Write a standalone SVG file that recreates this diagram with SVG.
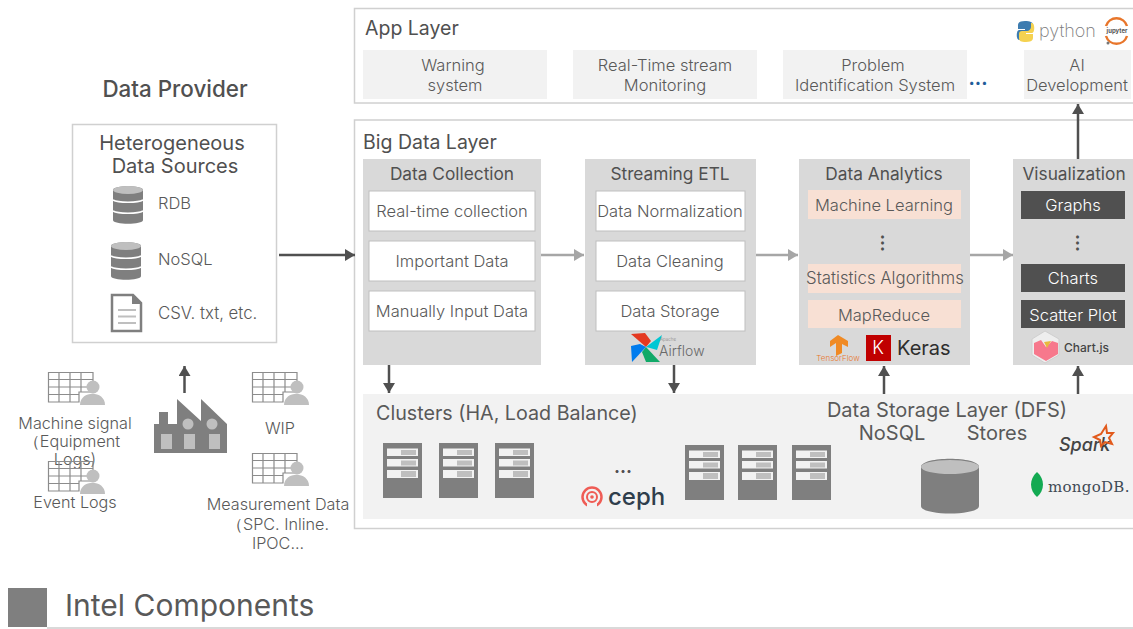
<svg xmlns="http://www.w3.org/2000/svg" xmlns:xlink="http://www.w3.org/1999/xlink" width="1133" height="629" viewBox="0 0 1133 629">
<style>
text{font-family:"Inter","Noto Sans","Liberation Sans",sans-serif;fill:#595959;text-anchor:middle;font-weight:300}
.t17{font-size:16.5px}
.h{font-size:17.300px;font-weight:400;fill:#505050}
.big{font-size:19.500px}
.hs{font-size:20px}
.s{font-size:16.200px}
.l{text-anchor:start}
.frame{fill:#fff;stroke:#d0d0d0;stroke-width:1.5}
.tile{fill:#f2f2f2}
.col{fill:#d9d9d9}
.wb{fill:#fff;stroke:#bfbfbf;stroke-width:1}
.pe{fill:#f8e0d4}
.dk{fill:#505050}
.ar{stroke:#505050;stroke-width:2.5;fill:none;marker-end:url(#ad)}
.ag{stroke:#a6a6a6;stroke-width:2.5;fill:none;marker-end:url(#ag)}
</style>
<defs>
<marker id="ad" markerUnits="userSpaceOnUse" markerWidth="12" markerHeight="12" refX="10" refY="6" orient="auto"><path d="M0 0L10 6L0 12Z" fill="#505050"/></marker>
<marker id="ag" markerUnits="userSpaceOnUse" markerWidth="12" markerHeight="12" refX="10" refY="6" orient="auto"><path d="M0 0L10 6L0 12Z" fill="#a6a6a6"/></marker>
<g id="db">
<path d="M0 4C0 -1 30 -1 30 4V34C30 39 0 39 0 34Z" fill="#7f7f7f"/>
<ellipse cx="15" cy="4" rx="15" ry="4" fill="#bfbfbf"/>
<path d="M0 14C5 17 25 17 30 14M0 25C5 28 25 28 30 25" stroke="#fff" stroke-width="1.5" fill="none"/>
</g>
<g id="tp">
<path d="M0.5 0.5H45V20H31V30H0.5ZM0.5 7.5H45M0.5 15H40M0.5 22.5H31M11 0.5V30M22 0.5V30M33 0.5V20" fill="none" stroke="#8c8c8c" stroke-width="1.2"/>
<circle cx="45" cy="15" r="6.5" fill="#bfbfbf"/>
<path d="M32 33C32 18 57 18 57 33Z" fill="#bfbfbf"/>
</g>
<g id="sv">
<rect width="39" height="55" fill="#7f7f7f"/>
<path d="M4 5.500H35V13H4ZM4 16H35V23.500H4ZM4 27H35V35H4Z" fill="#f2f2f2"/>
<path d="M18 7H33V12H18ZM18 17.500H33V22.500H18ZM18 28H33V34H18Z" fill="#bfbfbf"/>
</g>
</defs>

<g id="app-layer">
<rect class="frame" x="354.500" y="8.500" width="800" height="94.500"/>
<text class="h l big" x="365" y="35">App Layer</text>
</g>
<g id="app-warning"><rect class="tile" x="363" y="50" width="184" height="49"/><text class="t17" x="453" y="71">Warning</text><text class="t17" x="455" y="91">system</text></g>
<g id="app-monitoring"><rect class="tile" x="573" y="50" width="184" height="49"/><text class="t17" x="665" y="71">Real-Time stream</text><text class="t17" x="665" y="91">Monitoring</text></g>
<g id="app-problem"><rect class="tile" x="783" y="50" width="184" height="49"/><text class="t17" x="873" y="71">Problem</text><text class="t17" x="875" y="91">Identification System</text></g>
<g id="app-more"><text x="978" y="85" style="font-size:19px;font-weight:700;fill:#1f5c99">...</text></g>
<g id="app-ai"><rect class="tile" x="1024" y="50" width="107" height="49"/><text class="t17" x="1077" y="71">AI</text><text class="t17" x="1077" y="91">Development</text></g>
<g id="logo-python">
<path d="M1025 21C1018 21 1018 24 1018 26V29H1025V30H1019C1016 30 1016 40 1019 40H1021V36C1021 34 1023 33 1025 33H1030C1032 33 1033 32 1033 30V25C1033 22 1030 21 1025 21Z" fill="#3d7cb0"/>
<path d="M1026 42C1033 42 1033 39 1033 37V34L1026 34V33H1032C1035 33 1035 23 1032 23H1031V27C1031 29 1029 31 1027 31H1022C1020 31 1019 32 1019 34V38C1019 41 1021 42 1026 42Z" fill="#f5d250"/>
<text class="l" x="1039" y="37" style="font-size:18px;fill:#7a7a7a;font-weight:200">python</text>
</g>
<g id="logo-jupyter">
<path d="M1106 26A11 11 0 0 1 1127 26M1106 36A11 11 0 0 0 1127 36" fill="none" stroke="#e8762b" stroke-width="2.500"/>
<text x="1117" y="33" style="font-size:6px;font-weight:700;fill:#555">jupyter</text>
<circle cx="1108" cy="43" r="1.500" fill="#777"/>
</g>

<g id="big-data-layer">
<rect class="frame" x="354.500" y="120" width="800" height="408.500"/>
<text class="h l big" x="363" y="149">Big Data Layer</text>
</g>

<g id="data-collection">
<rect class="col" x="363" y="159" width="178" height="206"/>
<text class="h" x="452" y="180">Data Collection</text>
<rect class="wb" x="369" y="191" width="166" height="40"/><text class="t17" x="452" y="217">Real-time collection</text>
<rect class="wb" x="369" y="241" width="166" height="40"/><text class="t17" x="452" y="267">Important Data</text>
<rect class="wb" x="369" y="291" width="166" height="40"/><text class="t17" x="452" y="317">Manually Input Data</text>
</g>
<g id="streaming-etl">
<rect class="col" x="585" y="159" width="171" height="206"/>
<text class="h" x="670" y="180">Streaming ETL</text>
<rect class="wb" x="596" y="191" width="149" height="40"/><text class="t17" x="670" y="217">Data Normalization</text>
<rect class="wb" x="596" y="241" width="149" height="40"/><text class="t17" x="670" y="267">Data Cleaning</text>
<rect class="wb" x="596" y="291" width="149" height="40"/><text class="t17" x="670" y="317">Data Storage</text>
<path d="M646 347L631 334L645 333L651 341Z" fill="#e43921"/><path d="M646 347L662 335L657 350L650 348Z" fill="#00c7d4"/><path d="M646 347L660 362L646 362L642 352Z" fill="#11a968"/><path d="M646 347L632 362L631 346L640 344Z" fill="#017cee"/>
<text class="l" x="659" y="356" style="font-size:14px;fill:#6a6a6a">Airflow</text>
<text class="l" x="660" y="341" style="font-size:4.500px;fill:#888">Apache</text>
</g>
<g id="data-analytics">
<rect class="col" x="799" y="159" width="171" height="206"/>
<text class="h" x="884" y="180">Data Analytics</text>
<rect class="pe" x="808" y="190" width="153" height="29"/><text class="t17" x="884" y="211">Machine Learning</text>
<text x="886" y="248" style="font-size:18px;font-weight:700;fill:#505050" transform="rotate(90 886 243)">...</text>
<rect class="pe" x="808" y="264" width="153" height="29"/><text class="t17" x="885" y="284" style="font-size:16.800px">Statistics Algorithms</text>
<rect class="pe" x="808" y="300" width="153" height="28"/><text class="t17" x="884" y="321">MapReduce</text>
<path d="M838 335L848 341V347L842 344V353L836 356V343L830 347V341Z" fill="#f08a24"/>
<text x="838" y="361" style="font-size:8px;fill:#e8762b;font-weight:300">TensorFlow</text>
<rect x="866" y="335" width="25" height="26" fill="#c00000"/>
<text x="878" y="354" style="font-size:18px;fill:#fff;font-weight:300">K</text>
<text class="l" x="897" y="355" style="font-size:20px;fill:#2e2e2e;font-weight:400">Keras</text>
</g>
<g id="visualization">
<rect class="col" x="1013" y="159" width="130" height="206"/>
<text class="h" x="1074" y="180">Visualization</text>
<rect class="dk" x="1021" y="191" width="104" height="28"/><text class="t17" x="1073" y="211" style="fill:#fff">Graphs</text>
<text x="1081" y="248" style="font-size:18px;font-weight:700;fill:#505050" transform="rotate(90 1081 243)">...</text>
<rect class="dk" x="1021" y="264" width="104" height="28"/><text class="t17" x="1073" y="284" style="fill:#fff">Charts</text>
<rect class="dk" x="1021" y="300" width="104" height="28"/><text class="t17" x="1073" y="321" style="fill:#fff">Scatter Plot</text>
<path d="M1045 331L1059 339V355L1045 363L1032 355V339Z" fill="#eeeeee" stroke="#cfcfcf"/>
<path d="M1034 343L1041 340L1046 347L1052 341L1058 343V354L1046 361L1034 354Z" fill="#f7788c"/>
<path d="M1044 342L1051 341L1047 348Z" fill="#e8b93e"/>
<text class="l" x="1064" y="352" style="font-size:12px;font-weight:500;fill:#444">Chart.js</text>
</g>

<g id="storage-panel">
<rect class="tile" x="363" y="394" width="775" height="125"/>
<text class="l" x="376" y="420" style="font-size:19.700px;font-weight:400;fill:#595959">Clusters (HA, Load Balance)</text>
<text x="947" y="417" style="font-size:20px;font-weight:400;fill:#595959">Data Storage Layer (DFS)</text>
<text x="892" y="440" style="font-size:20px;font-weight:400;fill:#595959">NoSQL</text>
<text x="997" y="440" style="font-size:20px;font-weight:400;fill:#595959">Stores</text>
<text x="623" y="473" style="font-size:18px;font-weight:700;fill:#505050">...</text>
</g>
<g id="servers">
<use xlink:href="#sv" href="#sv" x="383" y="443"/>
<use xlink:href="#sv" href="#sv" x="439" y="443"/>
<use xlink:href="#sv" href="#sv" x="495" y="443"/>
<use xlink:href="#sv" href="#sv" x="685" y="445"/>
<use xlink:href="#sv" href="#sv" x="738" y="445"/>
<use xlink:href="#sv" href="#sv" x="792" y="445"/>
</g>
<g id="logo-ceph">
<circle cx="592" cy="497" r="9.500" fill="none" stroke="#ef5c55" stroke-width="2.500"/>
<circle cx="592" cy="497" r="5" fill="none" stroke="#ef5c55" stroke-width="2"/>
<circle cx="592" cy="497" r="1.800" fill="#ef5c55"/>
<rect x="587" y="503" width="10" height="6" fill="#f2f2f2"/>
<text class="l" x="608" y="505" style="font-size:24px;font-weight:500;fill:#2f3e4c">ceph</text>
</g>
<g id="nosql-store">
<path d="M921 467C921 456 979 456 979 467V506C979 516 921 516 921 506Z" fill="#7f7f7f"/>
<ellipse cx="950" cy="467" rx="29" ry="7" fill="#bfbfbf"/>
</g>
<g id="logo-spark">
<text class="l" x="1059" y="451" style="font-size:18px;font-style:italic;font-weight:500;fill:#444">Spark</text>
<path d="M1106 426L1107 433L1113 433L1109 438L1112 444L1105 442L1101 446L1100 440L1094 437L1101 434Z" fill="none" stroke="#e25a1c" stroke-width="2"/>
</g>
<g id="logo-mongodb">
<path d="M1037 472C1045 479 1045 490 1037 497C1029 490 1029 479 1037 472Z" fill="#13aa52"/>
<text class="l" x="1048" y="492" style="font-family:'DejaVu Serif',serif;font-size:15px;font-weight:400;fill:#3f4a55;letter-spacing:.3px">mongoDB.</text>
</g>

<g id="data-provider-title"><text x="175" y="97" style="font-size:22.400px;font-weight:500;fill:#505050">Data Provider</text></g>
<g id="heterogeneous-sources">
<rect class="frame" x="72.500" y="124.500" width="204" height="218"/>
<text class="h hs" x="172" y="150">Heterogeneous</text>
<text class="h hs" x="175" y="173">Data Sources</text>
<use xlink:href="#db" href="#db" x="113" y="186"/>
<text class="t17 l" x="158" y="209">RDB</text>
<use xlink:href="#db" href="#db" x="111" y="242"/>
<text class="t17 l" x="158" y="265">NoSQL</text>
<path d="M112 295H133L141 303V331H112Z" fill="#fff" stroke="#7f7f7f" stroke-width="2.500"/>
<path d="M132 295V304H141" fill="#7f7f7f"/>
<path d="M118 310H136M118 316.500H136M118 323H136" stroke="#bfbfbf" stroke-width="2.200"/>
<text class="l" x="158" y="319" style="font-size:16.800px">CSV. txt, etc.</text>
</g>
<g id="machine-signal">
<use xlink:href="#tp" href="#tp" x="48" y="372"/>
<text class="s" x="75" y="429">Machine signal</text>
<text class="s" x="72" y="447">（Equipment</text>
<text class="s" x="75" y="465">Logs)</text>
</g>
<g id="event-logs">
<use xlink:href="#tp" href="#tp" x="48" y="461"/>
<text class="s" x="75" y="508">Event Logs</text>
</g>
<g id="factory">
<path d="M154 453V424H159V412H168V424H177V399L201 421V399L227 424V453Z" fill="#7f7f7f"/>
<circle cx="188" cy="424" r="5.500" fill="#bfbfbf"/><circle cx="212" cy="424" r="5.500" fill="#bfbfbf"/>
<rect x="161" y="434" width="11" height="15" fill="#bfbfbf"/><rect x="184" y="434" width="11" height="15" fill="#bfbfbf"/><rect x="209" y="434" width="11" height="15" fill="#bfbfbf"/>
</g>
<g id="wip">
<use xlink:href="#tp" href="#tp" x="252" y="372"/>
<text class="s" x="280" y="434">WIP</text>
</g>
<g id="measurement">
<use xlink:href="#tp" href="#tp" x="252" y="453"/>
<text class="s" x="278" y="510">Measurement Data</text>
<text class="s" x="278" y="530">（SPC. Inline.</text>
<text class="s" x="278" y="549">IPOC...</text>
</g>

<g id="connectors">
<path class="ar" d="M279 255H355"/>
<path class="ag" d="M541 255H584"/>
<path class="ag" d="M756 255H798"/>
<path class="ag" d="M970 255H1013"/>
<path class="ar" d="M389 365V393"/>
<path class="ar" d="M674 365V393"/>
<path class="ar" d="M884 394V366"/>
<path class="ar" d="M1078 394V366"/>
<path class="ar" d="M1078 159V104"/>
<path class="ar" d="M184.500 393V366"/>
</g>

<g id="footer">
<rect x="8" y="588" width="39" height="39" fill="#7f7f7f"/>
<path d="M47 628H1133" stroke="#d9d9d9" stroke-width="2"/>
<text class="l" x="65" y="616" style="font-size:30px;font-weight:400;fill:#595959">Intel Components</text>
</g>
</svg>
